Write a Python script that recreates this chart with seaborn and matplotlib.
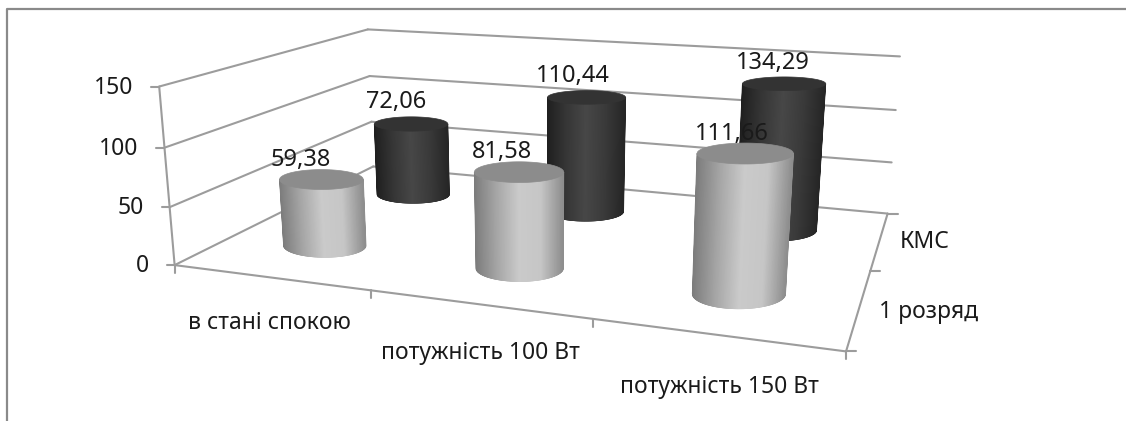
import numpy as np
import pandas as pd
import seaborn as sns
import matplotlib
matplotlib.use("Agg")
import matplotlib.pyplot as plt
from matplotlib.collections import PolyCollection
from matplotlib.patches import Polygon

categories = ["в стані спокою", "потужність 100 Вт", "потужність 150 Вт"]
series_names = ["1 розряд", "КМС"]
values_first = [59.38, 81.58, 111.66]
values_second = [72.06, 110.44, 134.29]
value_ticks = [0, 50, 100, 150]

sns.set_theme(style="white")
plt.rcParams["font.family"] = ["Noto Sans", "DejaVu Sans"]

# Camera calibration: scene point (category, depth, value) -> canvas position.
scene_pts = np.array([
    (0, 0, 0), (0, 0, 50), (0, 0, 100), (0, 0, 150),
    (0, 2, 0), (0, 2, 50), (0, 2, 100), (0, 2, 150),
    (3, 2, 0), (3, 2, 50), (3, 2, 100), (3, 2, 150),
    (3, 0, 0)], float)
canvas_pts = np.array([
    (174, 265), (169, 207), (165, 147), (160, 87),
    (374, 167), (372, 122), (369, 76), (367, 29),
    (887, 213), (892, 162), (896, 110), (900, 57),
    (846, 352)], float)


def fit_camera(scene, canvas):
    rows = []
    for (x, d, z), (u, v) in zip(scene, canvas):
        h = [x, d, z / 50, 1]
        u, v = u / 1000, v / 1000
        rows.append(h + [0, 0, 0, 0] + [-u * c for c in h])
        rows.append([0, 0, 0, 0] + h + [-v * c for c in h])
    return np.linalg.svd(np.array(rows))[2][-1].reshape(3, 4)


CAM = fit_camera(scene_pts, canvas_pts)


def project(x, d, z):
    x, d, z = np.broadcast_arrays(x, d, z)
    h = np.stack([x, d, z / 50, np.ones_like(x, float)])
    p = CAM @ h
    return np.stack([p[0] / p[2], p[1] / p[2]], axis=-1) * 1000


fig = plt.figure(figsize=(11.26, 4.21), dpi=100)
ax = fig.add_axes([0, 0, 1, 1])

# Outer chart border: only the top and left edges fall inside the canvas.
ax.plot([7, 7, 1126], [421, 9, 9], color="#8a8a8a", lw=1.6, zorder=1)

# Walls, floor edges and tick marks, collected as one long table of segments.
segments = []


def add_segment(a, b):
    k = len(segments) // 2
    for p in (a, b):
        segments.append({"seg": k, "px": p[0], "py": p[1]})


for z in value_ticks:
    add_segment(project(0, 0, z), project(0, 2, z))
    add_segment(project(0, 2, z), project(3, 2, z))
    add_segment(project(0, 0, z), project(0, 0, z) + (-8, 0))
add_segment(project(0, 0, 0), project(0, 0, 150))
add_segment(project(0, 0, 0), project(3, 0, 0))
add_segment(project(3, 0, 0), project(3, 2, 0))
for i in range(4):
    add_segment(project(i, 0, 0), project(i, 0, 0) + (0, 8))
for k in range(3):
    add_segment(project(3, k, 0), project(3, k, 0) + (10, 0))
sns.lineplot(data=pd.DataFrame(segments), x="px", y="py", units="seg", estimator=None,
             sort=False, color="#9c9c9c", lw=1.5, ax=ax, legend=False, zorder=2)
ax.set_xlim(0, 1126)
ax.set_ylim(421, 0)
ax.axis("off")

RX, RY = 0.2, 0.2
U = np.linspace(-1, 1, 241)
light_ramp = sns.blend_palette(["#7c7c7c", "#a6a6a6", "#cacaca", "#c6c6c6", "#8e8e8e"], as_cmap=True)
dark_ramp = sns.blend_palette(["#1f1f1f", "#363636", "#474747", "#3a3a3a", "#262626"], as_cmap=True)


def half_width(cx, cd, value):
    return (project(cx + RX, cd, value) - project(cx - RX, cd, value))[0] / 2


def ellipse_edge(cx, cd, value):
    """Centre and semi-axes of a disc seen at a given height, kept level on screen."""
    centre = project(cx, cd, value)
    # Width changes more gently along the row than the wall perspective would give.
    a = 0.55 * half_width(cx, cd, value) + 0.45 * half_width(2.5, cd, value)
    b = (project(cx, cd - RY, value) - project(cx, cd + RY, value))[1] / 2
    return centre, a, b


def cylinder(cx, cd, value, ramp, cap, z):
    c0, a0, b0 = ellipse_edge(cx, cd, 0.0)
    c1, a1, b1 = ellipse_edge(cx, cd, value)
    arc = np.sqrt(1 - U ** 2)
    low = np.column_stack([c0[0] + a0 * U, c0[1] + b0 * arc])
    top = np.column_stack([c1[0] + a1 * U, c1[1] + b1 * arc])
    quads = [[low[k], low[k + 1], top[k + 1], top[k]] for k in range(len(U) - 1)]
    shades = ramp((U[:-1] + U[1:]) / 4 + 0.5)
    ax.add_collection(PolyCollection(quads, facecolors=shades, edgecolors=shades,
                                     linewidths=0.6, zorder=z))
    rim = np.vstack([top, np.column_stack([c1[0] + a1 * U[::-1], c1[1] - b1 * arc[::-1]])])
    ax.add_patch(Polygon(rim, closed=True, fc=cap, ec=cap, lw=0.5, zorder=z + 0.1))


label_shift = [[(-21, -20), (-17, -20), (-13, -20)], [(-15, -22), (-14, -21), (-11, -21)]]
rows = [(1.5, values_second, dark_ramp, "#333333"), (0.5, values_first, light_ramp, "#8c8c8c")]
for r, (depth, vals, ramp, cap) in enumerate(rows):
    for i, v in enumerate(vals):
        cylinder(i + 0.5, depth, v, ramp, cap, 3 + r + i * 0.01)
        tx, ty = project(i + 0.5, depth, v)
        sx, sy = label_shift[1 - r][i]
        ax.text(tx + sx, ty + sy, f"{v:.2f}".replace(".", ","), ha="center", va="center",
                fontsize=17, color="#1a1a1a", zorder=9)

# Axis captions
for z in value_ticks:
    px, py = project(0, 0, z)
    ax.text(px - 26, py + 1, str(z), ha="right", va="center", fontsize=16.5, color="#1a1a1a")
for i, name in enumerate(categories):
    px, py = project(i + 0.5, 0, 0)
    ax.text(px + 2 * i, py + 46 + 3 * i, name, ha="center", va="center", fontsize=16.5, color="#1a1a1a")
for k, name in enumerate(series_names):
    px, py = project(3, k + 0.5, 0)
    ax.text(px + 20, py + 4 - 2 * k, name, ha="left", va="center", fontsize=16.5, color="#1a1a1a")

fig.savefig("out.png", dpi=100, facecolor="white")
